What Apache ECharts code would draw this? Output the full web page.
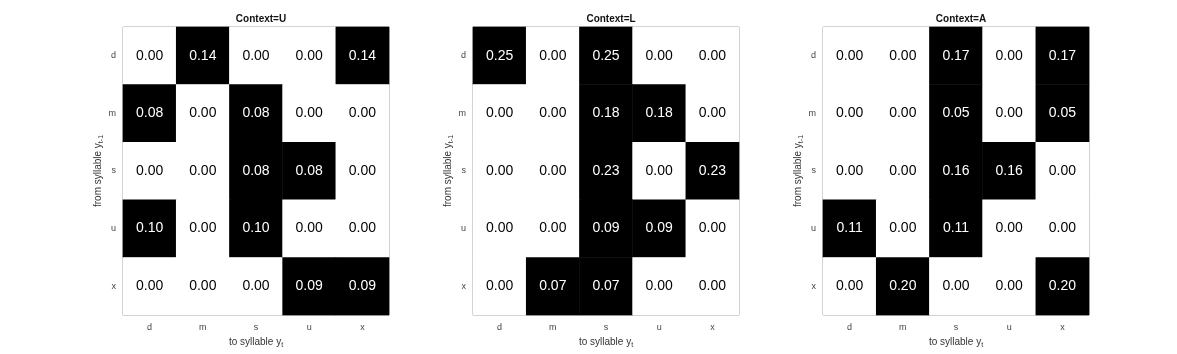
<!DOCTYPE html>
<html lang="en">
<head>
  <meta charset="UTF-8">
  <title>Transition matrices</title>
  <style>
      html, body { margin: 0; padding: 0; background: #fff; }
      #chart { width: 1177px; height: 354px; }
  </style>
</head>
<body>
<div id="chart"></div>
<script src="https://cdn.jsdelivr.net/npm/echarts@6/dist/echarts.min.js"></script>
<script>
  // syllables (columns: to y_t, rows: from y_{t-1})
  const syllables = ['d', 'm', 's', 'u', 'x'];
  const contexts = ['U', 'L', 'A'];

  // rows d, m, s, u, x
  const probU = [
    [0.00, 0.14, 0.00, 0.00, 0.14],
    [0.08, 0.00, 0.08, 0.00, 0.00],
    [0.00, 0.00, 0.08, 0.08, 0.00],
    [0.10, 0.00, 0.10, 0.00, 0.00],
    [0.00, 0.00, 0.00, 0.09, 0.09]
  ];
  const probL = [
    [0.25, 0.00, 0.25, 0.00, 0.00],
    [0.00, 0.00, 0.18, 0.18, 0.00],
    [0.00, 0.00, 0.23, 0.00, 0.23],
    [0.00, 0.00, 0.09, 0.09, 0.00],
    [0.00, 0.07, 0.07, 0.00, 0.00]
  ];
  const probA = [
    [0.00, 0.00, 0.17, 0.00, 0.17],
    [0.00, 0.00, 0.05, 0.00, 0.05],
    [0.00, 0.00, 0.16, 0.16, 0.00],
    [0.11, 0.00, 0.11, 0.00, 0.00],
    [0.00, 0.20, 0.00, 0.00, 0.20]
  ];
  const matrices = [probU, probL, probA];

  const font = 'Liberation Sans, Arial, sans-serif';
  const lefts = [123, 473, 823];

  const grids = [], xAxes = [], yAxes = [], series = [], titles = [];
  matrices.forEach(function (m, i) {
    grids.push({
      left: lefts[i], top: 27, width: 266, height: 288,
      show: true, borderColor: '#888', borderWidth: 1, backgroundColor: '#fff'
    });
    titles.push({
      text: 'Context=' + contexts[i],
      left: lefts[i] + 133, top: 9, textAlign: 'center',
      textStyle: { fontFamily: font, fontSize: 10, fontWeight: 'bold', color: '#111' }
    });
    xAxes.push({
      type: 'category', gridIndex: i, data: syllables,
      axisLine: { show: false }, axisTick: { show: false }, splitLine: { show: false },
      axisLabel: { fontFamily: font, fontSize: 9, color: '#444', margin: 8 },
      name: '{a|to syllable y}{s|t}', nameLocation: 'middle', nameGap: 19,
      nameTextStyle: {
        rich: {
          a: { fontFamily: font, fontSize: 10, color: '#333' },
          s: { fontFamily: font, fontSize: 7, color: '#333', verticalAlign: 'bottom', padding: [6, 0, 0, 0] }
        }
      }
    });
    yAxes.push({
      type: 'category', gridIndex: i, data: syllables, inverse: true,
      axisLine: { show: false }, axisTick: { show: false }, splitLine: { show: false },
      axisLabel: { fontFamily: font, fontSize: 9, color: '#444', margin: 7 },
      name: '{a|from syllable y}{s|t-1}', nameLocation: 'middle', nameGap: 15,
      nameTextStyle: {
        rich: {
          a: { fontFamily: font, fontSize: 10, color: '#333' },
          s: { fontFamily: font, fontSize: 7, color: '#333', padding: [6, 0, 0, 0] }
        }
      }
    });
    const data = [];
    m.forEach(function (row, r) {
      row.forEach(function (v, c) {
        data.push({
          value: [c, r, v],
          itemStyle: { color: v > 0 ? '#000' : '#fff' },
          label: { color: v > 0 ? '#fff' : '#000' }
        });
      });
    });
    series.push({
      type: 'heatmap', xAxisIndex: i, yAxisIndex: i, data: data,
      label: {
        show: true, fontFamily: font, fontSize: 14,
        formatter: function (p) { return p.value[2].toFixed(2); }
      },
      emphasis: { disabled: true }
    });
  });

  const chart = echarts.init(document.getElementById('chart'));
  chart.setOption({
    animation: false,
    title: titles,
    grid: grids,
    xAxis: xAxes,
    yAxis: yAxes,
    series: series
  });
</script>
</body>
</html>
